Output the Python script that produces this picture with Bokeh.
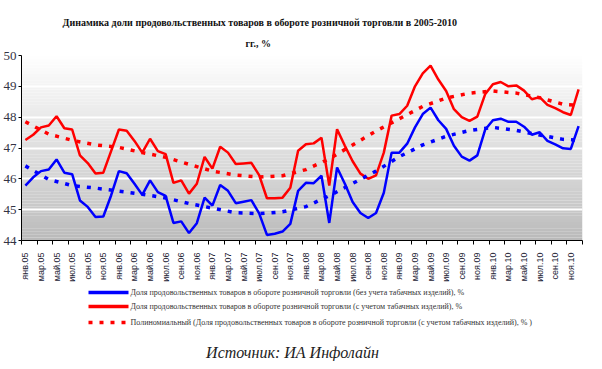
from bokeh.plotting import figure
from bokeh.layouts import column
from bokeh.models import Range1d, FixedTicker, Title
from bokeh.core.properties import value
from bokeh.embed import file_html
from bokeh.resources import INLINE

# ---------------- data ----------------
month_names = ["янв", "фев", "мар", "апр", "май", "июн",
               "июл", "авг", "сен", "окт", "ноя", "дек"]
years = ["05", "06", "07", "08", "09", "10"]
months = [f"{m}.{y}" for y in years for m in month_names]

# share of food products, without tobacco, %
blue = [45.78, 46.05, 46.25, 46.30, 46.63, 46.20, 46.15, 45.30, 45.09, 44.76, 44.78, 45.46,
        46.25, 46.18, 45.84, 45.48, 45.95, 45.57, 45.45, 44.57, 44.62, 44.24, 44.56, 45.39,
        45.13, 45.80, 45.61, 45.21, 45.26, 45.31, 44.88, 44.18, 44.22, 44.29, 44.54, 45.61,
        45.87, 45.86, 46.10, 44.57, 46.37, 45.84, 45.25, 44.89, 44.73, 44.89, 45.55, 46.85,
        46.85, 47.14, 47.67, 48.10, 48.31, 47.90, 47.62, 47.07, 46.72, 46.59, 46.76, 47.59,
        47.90, 47.95, 47.85, 47.85, 47.69, 47.43, 47.51, 47.23, 47.12, 46.99, 46.97, 47.71]

# share of food products, with tobacco, %
red = [47.26, 47.43, 47.67, 47.73, 48.03, 47.64, 47.60, 46.76, 46.51, 46.17, 46.20, 46.90,
       47.60, 47.56, 47.23, 46.85, 47.30, 46.90, 46.80, 45.87, 45.95, 45.52, 45.84, 46.71,
       46.33, 47.04, 46.85, 46.48, 46.50, 46.52, 46.12, 45.37, 45.37, 45.39, 45.71, 46.91,
       47.12, 47.15, 47.33, 45.78, 47.61, 47.07, 46.57, 46.17, 46.00, 46.11, 46.85, 48.05,
       48.10, 48.37, 49.00, 49.42, 49.67, 49.22, 48.85, 48.26, 48.00, 47.88, 48.02, 48.74,
       49.07, 49.14, 49.00, 49.03, 48.86, 48.58, 48.65, 48.40, 48.29, 48.16, 48.07, 48.90]

# polynomial trend lines at these month indices
trend_idx = [0, 3, 6, 9, 12, 15, 18, 21, 24, 27, 30, 33, 36, 39, 42, 45, 48, 51, 54, 57,
             60, 63, 66, 69, 71]
red_trend = [47.85, 47.45, 47.25, 47.10, 47.02, 46.85, 46.70, 46.47, 46.25, 46.12, 46.06,
             46.10, 46.30, 46.65, 47.10, 47.55, 47.95, 48.35, 48.62, 48.78, 48.85, 48.78,
             48.63, 48.42, 48.38]
blue_trend = [46.42, 45.98, 45.78, 45.70, 45.60, 45.50, 45.38, 45.20, 45.05, 44.90, 44.87,
              44.93, 45.10, 45.45, 45.85, 46.25, 46.72, 47.10, 47.38, 47.57, 47.67, 47.57,
              47.42, 47.28, 47.25]

y_ticks = [44, 45, 46, 47, 48, 49, 50]

title_1 = "Динамика доли продовольственных товаров в обороте розничной торговли в 2005-2010"
title_2 = "гг., %"
legend_labels = [
    "Доля продовольственных товаров в обороте розничной торговли (без учета табачных изделий), %",
    "Доля продовольственных товаров в обороте розничной торговли (с учетом табачных изделий), %",
    "Полиномиальный (Доля продовольственных товаров в обороте розничной торговли (с учетом табачных изделий), % )",
]
legend_colors = ["#0000ff", "#ff0000", "#ff0000"]
legend_dashes = ["solid", "solid", "4 7"]
source_text = "Источник: ИА Инфолайн"

# ---------------- main figure ----------------
n = len(months)
xs = [i + 0.5 for i in range(n)]
txs = [i + 0.5 for i in trend_idx]

p = figure(frame_width=561, frame_height=185, output_backend="svg", toolbar_location=None,
           x_range=Range1d(0, n), y_range=Range1d(y_ticks[0], y_ticks[-1]),
           min_border_left=0, min_border_right=11, min_border_top=55, min_border_bottom=45,
           background_fill_color="white", border_fill_color="white", outline_line_color=None)
p.title = None

# gradient plot-area background (white at top -> grey at bottom)
steps = 60
lo, hi = y_ticks[0], y_ticks[-1]
bots, tops, cols = [], [], []
for k in range(steps):
    b = lo + (hi - lo) * k / steps
    t = lo + (hi - lo) * (k + 1) / steps
    f = (k + 0.5) / steps
    g = int(round(184 + (254 - 184) * (f ** 0.85)))
    bots.append(b); tops.append(t); cols.append(f"#{g:02x}{g:02x}{g:02x}")
p.quad(left=0, right=n, bottom=bots, top=tops, fill_color=cols, line_color=None, level="image")

# grid
p.xgrid.grid_line_color = None
p.ygrid.grid_line_color = "white"
p.ygrid.grid_line_width = 2
p.ygrid.ticker = FixedTicker(ticks=y_ticks)

# series
p.line(xs, blue, line_color="#0000ff", line_width=2.5)
p.line(xs, red, line_color="#ff0000", line_width=2.5)
p.line(txs, red_trend, line_color="#ff0000", line_width=3.5, line_dash="4 7")
p.line(txs, blue_trend, line_color="#0000ff", line_width=3.5, line_dash="4 7")

# y axis
p.yaxis.ticker = FixedTicker(ticks=y_ticks)
p.yaxis.axis_line_color = "black"
p.yaxis.major_tick_line_color = "black"
p.yaxis.major_tick_out = 3
p.yaxis.major_tick_in = 0
p.yaxis.minor_tick_line_color = None
p.yaxis.major_label_standoff = 2
p.yaxis.major_label_text_font = "Liberation Sans Narrow"
p.yaxis.major_label_text_font_size = "13px"
p.yaxis.major_label_text_color = "#333344"

# x axis: labels at every second month centre, ticks on every second category boundary
label_pos = [i + 0.5 for i in range(0, n, 2)]
p.xaxis.ticker = FixedTicker(ticks=label_pos, minor_ticks=list(range(0, n + 1, 2)))
p.xaxis.major_label_overrides = {i + 0.5: months[i] for i in range(0, n, 2)}
p.xaxis.major_label_orientation = 1.5707963
p.xaxis.major_tick_out = 0
p.xaxis.major_tick_in = 0
p.xaxis.minor_tick_out = 4
p.xaxis.minor_tick_in = 0
p.xaxis.minor_tick_line_color = "black"
p.xaxis.axis_line_color = "black"
p.xaxis.major_label_standoff = 8
p.xaxis.major_label_text_font = "Liberation Sans"
p.xaxis.major_label_text_font_size = "9px"
p.xaxis.major_label_text_color = "#222233"

# two-line title
t2 = Title(text=title_2, align="left", text_font="Liberation Serif", text_font_style="bold",
           text_font_size="10px", text_color="#111111", offset=224, standoff=14)
t1 = Title(text=title_1, align="left", text_font="Liberation Serif", text_font_style="bold",
           text_font_size="10px", text_color="#111111", offset=41, standoff=2)
p.add_layout(t2, "above")
p.add_layout(t1, "above")

# ---------------- legend / source strip (pixel-like coordinates) ----------------
W2, H2 = 586, 76
q = figure(frame_width=W2, frame_height=H2, output_backend="svg", toolbar_location=None,
           x_range=Range1d(0, W2), y_range=Range1d(H2, 0),
           x_axis_location=None, y_axis_location=None,
           min_border_left=0, min_border_right=0, min_border_top=0, min_border_bottom=0,
           background_fill_color="white", border_fill_color="white", outline_line_color=None)
q.title = None
q.xgrid.grid_line_color = None
q.ygrid.grid_line_color = None

leg_x0, leg_x1, leg_tx = 67, 107, 109
leg_y = [7, 21, 37]
for lbl, col, dash, yy in zip(legend_labels, legend_colors, legend_dashes, leg_y):
    q.line([leg_x0, leg_x1], [yy, yy], line_color=col, line_width=3.5, line_dash=dash)
    q.text(x=[leg_tx], y=[yy], text=[lbl], text_align="left", text_baseline="middle",
           text_font=value("Liberation Serif"), text_font_size="8px", text_color="#333333")

q.text(x=[271], y=[67], text=[source_text], text_align="center", text_baseline="middle",
       text_font=value("Liberation Serif"), text_font_style="italic",
       text_font_size="16px", text_color="#222222")

layout = column(p, q, spacing=0)
open("out.html", "w").write(file_html(layout, INLINE))
